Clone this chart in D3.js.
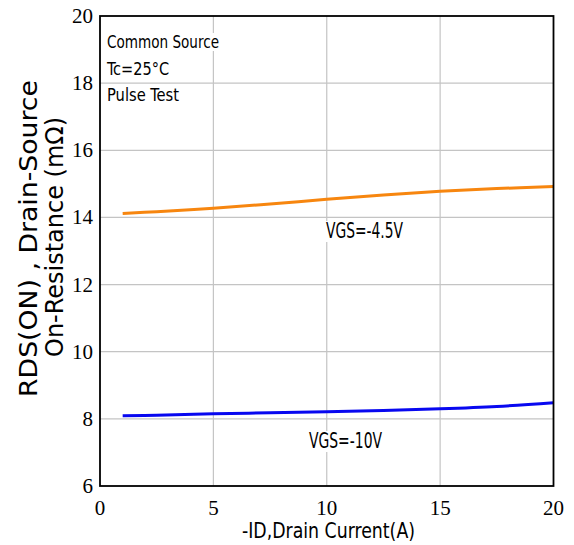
<!DOCTYPE html>
<html><head><meta charset="utf-8">
<script src="https://cdn.jsdelivr.net/npm/d3@7"></script>
<style>body{margin:0;background:#fff}svg{display:block}</style>
</head><body>
<svg id="c" width="574" height="545"></svg>
<script>
const xTicks = [0, 5, 10, 15, 20];
const yTicks = [6, 8, 10, 12, 14, 16, 18, 20];
const idValues = [1, 2.5, 5, 7.5, 10, 12.5, 15, 17.5, 20];
const rds45 = [14.12, 14.17, 14.27, 14.40, 14.54, 14.67, 14.78, 14.86, 14.92];
const rds10 = [8.09, 8.11, 8.15, 8.18, 8.21, 8.25, 8.30, 8.37, 8.48];
const seriesNames = ["VGS=-4.5V", "VGS=-10V"];
const noteLines = ["Common Source", "Tc=25\u00B0C", "Pulse Test"];

const L = 100, R = 553.5, T = 16, B = 486;
const svg = d3.select("#c");
const x = d3.scaleLinear().domain([0, 20]).range([L, R]);
const y = d3.scaleLinear().domain([6, 20]).range([B, T]);

// grid
const g = svg.append("g");
g.selectAll("line.v").data(xTicks.slice(1, -1)).enter().append("line")
  .attr("x1", d => x(d)).attr("x2", d => x(d)).attr("y1", T).attr("y2", B)
  .attr("stroke", "#c4c4c4").attr("stroke-width", 1.2);
g.selectAll("line.h").data(yTicks.slice(1, -1)).enter().append("line")
  .attr("y1", d => y(d)).attr("y2", d => y(d)).attr("x1", L).attr("x2", R)
  .attr("stroke", "#c4c4c4").attr("stroke-width", 1.2);

const textFont = "'DejaVu Sans Condensed','DejaVu Sans',sans-serif";
function label(px, py, txt, size, len) {
  const t = svg.append("text").attr("x", px).attr("y", py).text(txt)
    .attr("font-family", textFont).attr("font-size", size).attr("fill", "#000")
    .attr("textLength", len).attr("lengthAdjust", "spacingAndGlyphs");
  const b = t.node().getBBox();
  svg.insert("rect", () => t.node()).attr("x", b.x - 1).attr("y", b.y + 2)
    .attr("width", b.width + 2).attr("height", b.height - 3).attr("fill", "#fff");
  return t;
}

// lines
const line = d3.line().x(d => x(d[0])).y(d => y(d[1])).curve(d3.curveCatmullRom);
svg.append("path").datum(idValues.map((v, i) => [v, rds45[i]]))
  .attr("d", line).attr("fill", "none").attr("stroke", "#f7860f").attr("stroke-width", 3);
svg.append("path").datum(idValues.map((v, i) => [v, rds10[i]]))
  .attr("d", line).attr("fill", "none").attr("stroke", "#0808f0").attr("stroke-width", 3);

// notes
label(107, 48, noteLines[0], 18, 112);
label(107, 75, noteLines[1], 18, 62);
label(107, 101, noteLines[2], 18, 72);
label(326, 238, seriesNames[0], 21, 77);
label(309, 448, seriesNames[1], 21, 73);

// frame
svg.append("rect").attr("x", L).attr("y", T).attr("width", R - L).attr("height", B - T)
  .attr("fill", "none").attr("stroke", "#000").attr("stroke-width", 1.8);

// tick labels
const tickFont = "'Liberation Serif','DejaVu Serif',serif";
svg.selectAll("text.xt").data(xTicks).enter().append("text")
  .attr("x", d => x(d)).attr("y", 515).attr("text-anchor", "middle")
  .attr("font-family", tickFont).attr("font-size", 21).text(d => d);
svg.selectAll("text.yt").data(yTicks).enter().append("text")
  .attr("x", 93).attr("y", d => y(d) + 7).attr("text-anchor", "end")
  .attr("font-family", tickFont).attr("font-size", 21).text(d => d);

// axis titles
svg.append("text").attr("x", 242).attr("y", 538).text("-ID,Drain Current(A)")
  .attr("font-family", textFont).attr("font-size", 22)
  .attr("textLength", 173).attr("lengthAdjust", "spacingAndGlyphs");
svg.append("text").attr("transform", "translate(37,397) rotate(-90)")
  .text("RDS(ON) , Drain-Source")
  .attr("font-family", textFont).attr("font-size", 25)
  .attr("textLength", 317).attr("lengthAdjust", "spacingAndGlyphs");
svg.append("text").attr("transform", "translate(63,357) rotate(-90)")
  .text("On-Resistance (m\u03A9)")
  .attr("font-family", textFont).attr("font-size", 25)
  .attr("textLength", 240).attr("lengthAdjust", "spacingAndGlyphs");
</script>
</body></html>
